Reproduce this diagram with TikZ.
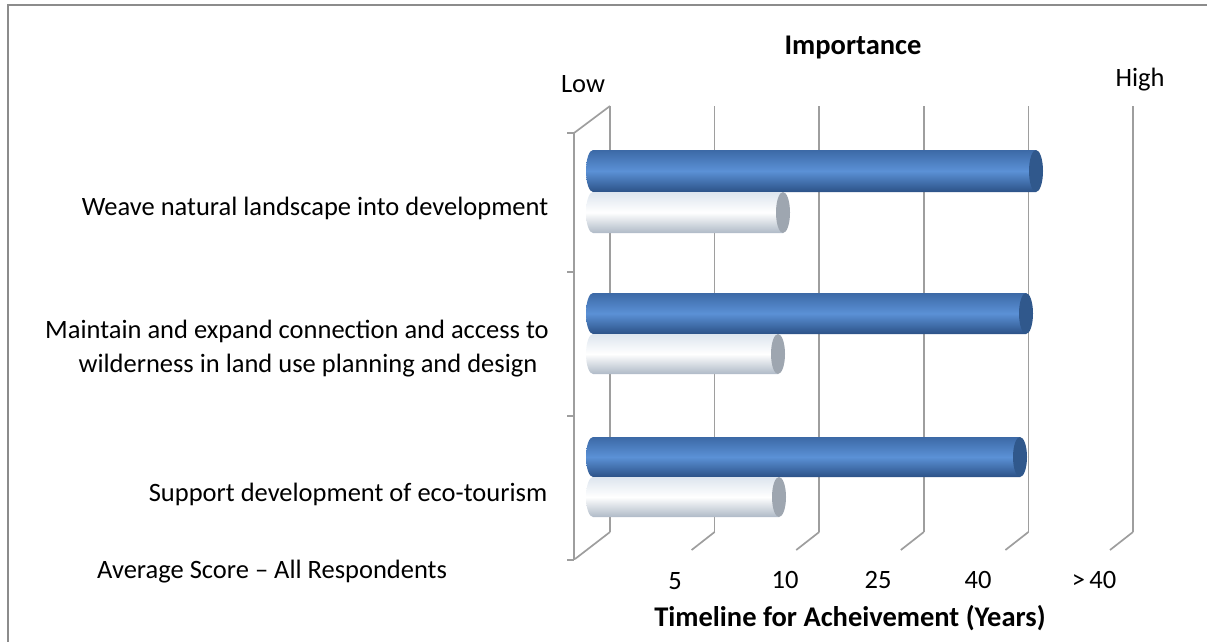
\documentclass[tikz,border=0pt]{standalone}
\usepackage{fontspec}
\setmainfont{Carlito}
\definecolor{gridc}{HTML}{9E9E9E}
\definecolor{framec}{HTML}{8C8C8C}
\definecolor{btop}{HTML}{3C69A6}
\definecolor{bmid}{HTML}{5B91D6}
\definecolor{bbot}{HTML}{2C5287}
\definecolor{bcap}{HTML}{30588C}
\definecolor{wtop}{HTML}{DDE5EE}
\definecolor{wmid}{HTML}{FFFFFF}
\definecolor{wbot}{HTML}{AFBAC7}
\definecolor{wcap}{HTML}{9EA6B0}
\newcommand\cylbar[6]{%
  \pgfmathsetmacro\cyry{(#3-#2)/2}%
  \shade[#5] (#4,#2) -- (#1+7,#2) arc[start angle=-90,end angle=-270,x radius=7,y radius=\cyry] -- (#4,#3) -- cycle;
  \fill[#6] (#4,{(#2+#3)/2}) ellipse[x radius=7,y radius=\cyry];
}
\begin{document}
\begin{tikzpicture}[x=1pt,y=-1pt,
  grid/.style={draw=gridc,line width=1.7pt},
  frame/.style={draw=framec,line width=1.6pt},
  lbl/.style={font=\fontsize{26.5}{31}\selectfont,inner sep=0pt},
  blbl/.style={font=\fontsize{28.5}{33}\selectfont\bfseries,inner sep=0pt},
  bluebar/.style={top color=btop,bottom color=bbot,middle color=bmid},
  whitebar/.style={top color=wtop,bottom color=wbot,middle color=wmid}]
\useasboundingbox (0,0) rectangle (1207,642);
% frame
\draw[frame] (8,642) -- (8,5) -- (1207,5);
% back grid lines
\foreach \gx in {610,714.6,819.2,923.8,1028.4,1133} {
  \draw[grid] (\gx,106) -- (\gx,532);
}
\draw[grid] (610,532) -- (575,559);
\foreach \gx in {714.6,819.2,923.8,1028.4,1133} {
  \draw[grid] (\gx,532) -- (\gx-23,550);
}
% left axis
\draw[grid] (574,133) -- (574,560);
\draw[grid] (574,133) -- (610,106);
\foreach \ty in {133,272,416,560} {
  \draw[grid] (567,\ty) -- (574,\ty);
}
% bars
\cylbar{586}{150}{192}{1036}{bluebar}{bcap}
\cylbar{586}{192}{233}{783}{whitebar}{wcap}
\cylbar{586}{293}{334}{1026}{bluebar}{bcap}
\cylbar{586}{334}{374}{778}{whitebar}{wcap}
\cylbar{586}{437}{477}{1020}{bluebar}{bcap}
\cylbar{586}{477}{517}{779}{whitebar}{wcap}
% titles
\node[blbl] (imp) at (853,48) {Importance};
\node[lbl] (low) at (583,84) {Low};
\node[lbl] (high) at (1140,80) {High};
% category labels
\node[lbl] (c1) at (315,208) {Weave natural landscape into development};
\node[lbl] (c2a) at (297,331) {Maintain and expand connection and access to};
\node[lbl] (c2b) at (308,366) {wilderness in land use planning and design};
\node[lbl] (c3) at (348,494) {Support development of eco-tourism};
\node[lbl,anchor=west] (avg) at (97,572) {Average Score -- All Respondents};
% tick labels
\node[lbl] (t5) at (675,581) {5};
\node[lbl] (t10) at (785,580) {10};
\node[lbl] (t25) at (878,580) {25};
\node[lbl] (t40) at (978,580) {40};
\node[lbl] (t41) at (1094,580) {>\,40};
\node[blbl] (xt) at (850,618) {Timeline for Acheivement (Years)};
\end{tikzpicture}
\end{document}
